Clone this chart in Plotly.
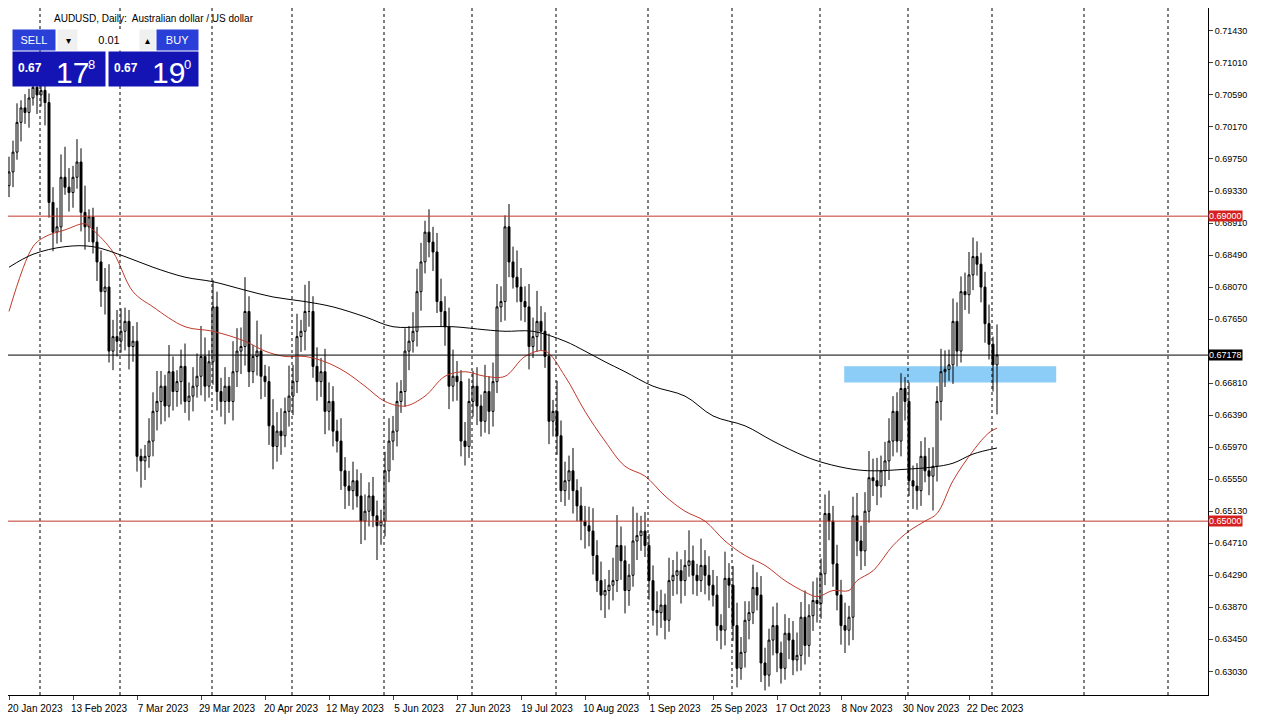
import pandas as pd
import plotly.graph_objects as go

# daily closes, AUDUSD
closes = [
    0.6958, 0.6984, 0.7023, 0.7042, 0.7036, 0.7055, 0.7069, 0.7059, 0.7065, 0.7049, 0.6918, 0.6879, 0.6886, 0.6951, 0.6938, 0.6931,
    0.6951, 0.6971, 0.6905, 0.6886, 0.6899, 0.6866, 0.6840, 0.6801, 0.6807, 0.6723, 0.6742, 0.6736, 0.6749, 0.6762, 0.6729, 0.6736,
    0.6585, 0.6579, 0.6585, 0.6605, 0.6644, 0.6657, 0.6677, 0.6651, 0.6696, 0.6670, 0.6683, 0.6703, 0.6657, 0.6664, 0.6677, 0.6690,
    0.6716, 0.6677, 0.6709, 0.6781, 0.6670, 0.6657, 0.6677, 0.6657, 0.6696, 0.6723, 0.6729, 0.6775, 0.6696, 0.6716, 0.6723, 0.6690,
    0.6683, 0.6625, 0.6598, 0.6618, 0.6612, 0.6644, 0.6664, 0.6683, 0.6742, 0.6749, 0.6775, 0.6775, 0.6703, 0.6683, 0.6696, 0.6644,
    0.6657, 0.6618, 0.6605, 0.6566, 0.6546, 0.6540, 0.6553, 0.6533, 0.6500, 0.6513, 0.6533, 0.6507, 0.6494, 0.6500, 0.6566, 0.6605,
    0.6618, 0.6657, 0.6670, 0.6723, 0.6736, 0.6749, 0.6801, 0.6840, 0.6879, 0.6866, 0.6853, 0.6788, 0.6775, 0.6755, 0.6677, 0.6690,
    0.6683, 0.6605, 0.6598, 0.6657, 0.6677, 0.6651, 0.6631, 0.6670, 0.6644, 0.6683, 0.6781, 0.6788, 0.6886, 0.6840, 0.6820, 0.6807,
    0.6788, 0.6781, 0.6729, 0.6742, 0.6762, 0.6749, 0.6716, 0.6631, 0.6644, 0.6612, 0.6540, 0.6553, 0.6566, 0.6540, 0.6520, 0.6500,
    0.6494, 0.6487, 0.6455, 0.6422, 0.6403, 0.6409, 0.6416, 0.6422, 0.6468, 0.6448, 0.6409, 0.6429, 0.6474, 0.6481, 0.6487, 0.6468,
    0.6422, 0.6383, 0.6380, 0.6390, 0.6370, 0.6422, 0.6429, 0.6435, 0.6422, 0.6442, 0.6448, 0.6429, 0.6422, 0.6442, 0.6429, 0.6416,
    0.6403, 0.6363, 0.6357, 0.6425, 0.6416, 0.6363, 0.6307, 0.6328, 0.6370, 0.6380, 0.6413, 0.6403, 0.6314, 0.6298, 0.6344, 0.6363,
    0.6327, 0.6307, 0.6353, 0.6344, 0.6318, 0.6324, 0.6374, 0.6337, 0.6376, 0.6396, 0.6392, 0.6431, 0.6510, 0.6500, 0.6444, 0.6403,
    0.6363, 0.6357, 0.6374, 0.6507, 0.6474, 0.6461, 0.6513, 0.6557, 0.6553, 0.6546, 0.6566, 0.6579, 0.6605, 0.6644, 0.6605, 0.6674,
    0.6657, 0.6553, 0.6546, 0.6540, 0.6585, 0.6566, 0.6559, 0.6572, 0.6657, 0.6696, 0.6699, 0.6705, 0.6762, 0.6723, 0.6801, 0.6797,
    0.6823, 0.6847, 0.6837, 0.6807, 0.6759, 0.6732, 0.6705, 0.6718,
]
first_open = 0.6940

# wick lengths in pips above / below the candle body
hi_wick = [
    20, 15, 25, 10, 18, 12, 20, 8, 15, 10, 12, 20, 25, 30, 40, 25,
    15, 30, 18, 35, 10, 12, 20, 15, 25, 30, 22, 35, 30, 18, 15, 20,
    25, 10, 15, 30, 25, 40, 20, 15, 35, 20, 15, 22, 30, 18, 25, 30,
    40, 25, 15, 35, 20, 18, 25, 12, 40, 30, 25, 45, 20, 15, 40, 22,
    15, 20, 35, 25, 30, 18, 40, 22, 30, 15, 35, 40, 20, 25, 18, 30,
    25, 20, 15, 30, 18, 20, 25, 15, 30, 22, 18, 25, 20, 15, 25, 30,
    20, 25, 15, 30, 20, 25, 30, 25, 15, 30, 20, 25, 30, 20, 25, 35,
    20, 15, 25, 30, 20, 25, 15, 35, 20, 25, 30, 20, 15, 30, 20, 35,
    25, 20, 30, 25, 40, 20, 25, 30, 15, 40, 20, 25, 20, 30, 15, 25,
    20, 25, 30, 20, 25, 15, 20, 30, 40, 25, 20, 15, 45, 30, 20, 25,
    15, 20, 25, 20, 15, 30, 20, 25, 15, 20, 40, 20, 15, 35, 20, 25,
    20, 25, 15, 35, 20, 25, 30, 20, 25, 15, 30, 20, 25, 20, 15, 25,
    30, 15, 25, 20, 25, 30, 20, 35, 15, 25, 30, 20, 25, 30, 20, 25,
    20, 30, 15, 25, 30, 20, 25, 35, 25, 30, 20, 25, 30, 20, 25, 20,
    15, 25, 20, 30, 20, 25, 30, 25, 20, 30, 25, 20, 30, 25, 20, 25,
    30, 25, 20, 15, 20, 25, 10, 40,
]
lo_wick = [
    15, 20, 10, 25, 15, 20, 10, 25, 15, 30, 20, 25, 15, 20, 10, 25,
    20, 15, 25, 30, 20, 15, 25, 20, 30, 15, 25, 20, 15, 25, 30, 20,
    20, 35, 25, 15, 20, 25, 30, 20, 15, 25, 20, 30, 15, 25, 20, 15,
    25, 20, 15, 30, 25, 20, 30, 15, 25, 20, 30, 25, 20, 15, 25, 30,
    20, 25, 30, 20, 25, 15, 20, 25, 15, 20, 25, 20, 15, 25, 20, 30,
    25, 20, 15, 25, 30, 20, 25, 15, 30, 25, 20, 15, 45, 25, 20, 15,
    25, 20, 15, 20, 25, 15, 20, 25, 15, 20, 25, 15, 20, 25, 30, 20,
    25, 20, 25, 15, 20, 25, 20, 15, 30, 20, 15, 20, 25, 20, 15, 20,
    25, 20, 30, 15, 20, 25, 15, 30, 20, 25, 15, 20, 25, 30, 20, 25,
    30, 20, 25, 15, 20, 30, 25, 20, 15, 25, 30, 20, 15, 25, 20, 15,
    25, 20, 30, 20, 25, 15, 20, 25, 30, 20, 15, 25, 20, 15, 25, 20,
    15, 20, 25, 20, 30, 20, 25, 15, 20, 25, 15, 20, 25, 20, 15, 20,
    25, 20, 15, 25, 20, 15, 20, 25, 15, 20, 25, 20, 15, 25, 30, 20,
    25, 30, 20, 30, 20, 25, 20, 15, 20, 25, 15, 20, 25, 20, 15, 20,
    25, 20, 30, 25, 20, 15, 25, 45, 20, 25, 20, 15, 25, 20, 15, 20,
    25, 20, 15, 20, 25, 20, 35, 65,
]

# moving averages sampled at bar indices
ma_red_idx = [0, 6, 9, 14, 19, 21, 26, 31, 36, 44, 51, 59, 64, 69, 74, 79, 84, 89, 94, 99, 104, 109, 114, 119, 124, 129,
              134, 139, 144, 149, 154, 159, 164, 169, 174, 179, 184, 189, 194, 199, 202, 206, 210, 212, 216, 221, 225, 229,
              232, 236, 241, 245, 247]
ma_red = [0.6775, 0.6860, 0.6873, 0.6882, 0.6890, 0.6882, 0.6853, 0.6801, 0.6781, 0.6755, 0.6749, 0.6736, 0.6723, 0.6716,
          0.6716, 0.6709, 0.6696, 0.6677, 0.6657, 0.6651, 0.6664, 0.6690, 0.6696, 0.6690, 0.6690, 0.6716, 0.6723, 0.6690,
          0.6644, 0.6605, 0.6572, 0.6559, 0.6533, 0.6513, 0.6500, 0.6474, 0.6455, 0.6442, 0.6422, 0.6407, 0.6401, 0.6409,
          0.6409, 0.6422, 0.6435, 0.6468, 0.6487, 0.6500, 0.6510, 0.6553, 0.6592, 0.6616, 0.6622]
ma_black_idx = [0, 6, 14, 21, 29, 36, 44, 51, 59, 66, 74, 81, 89, 96, 104, 111, 119, 124, 131, 139, 144, 149, 154, 161, 169,
                176, 184, 191, 199, 204, 211, 216, 224, 231, 236, 241, 247]
ma_black = [0.6833, 0.6850, 0.6860, 0.6860, 0.6847, 0.6833, 0.6820, 0.6814, 0.6803, 0.6794, 0.6788, 0.6781, 0.6768, 0.6755,
            0.6755, 0.6755, 0.6751, 0.6749, 0.6749, 0.6736, 0.6723, 0.6709, 0.6696, 0.6677, 0.6664, 0.6638, 0.6625, 0.6605,
            0.6585, 0.6576, 0.6568, 0.6566, 0.6568, 0.6571, 0.6576, 0.6588, 0.6596]

levels_red = [0.6900, 0.6500]
last_price = 0.67178
zone_lo, zone_hi = 0.6682, 0.6703
zone_start, zone_end = 208.8, 261.8

y_ticks = [0.71430, 0.71010, 0.70590, 0.70170, 0.69750, 0.69330, 0.68910, 0.68490, 0.68070, 0.67650,
           0.66810, 0.66390, 0.65970, 0.65550, 0.65130, 0.64710, 0.64290, 0.63870, 0.63450, 0.63030]

dates = pd.bdate_range('2023-01-20', periods=300)
n = len(closes)
idx = list(range(n))
opens = [first_open] + closes[:-1]
highs = [max(o, c) + w / 10000 for o, c, w in zip(opens, closes, hi_wick)]
lows = [min(o, c) - w / 10000 for o, c, w in zip(opens, closes, lo_wick)]

PW, PH = 1200, 687  # plot area in px


def px(x):
    return x / PW


def py(y):
    return 1 - y / PH


fig = go.Figure()
fig.add_trace(go.Candlestick(
    x=idx, open=opens, high=highs, low=lows, close=closes,
    increasing=dict(line=dict(color='black', width=1), fillcolor='white'),
    decreasing=dict(line=dict(color='black', width=1), fillcolor='black'),
    whiskerwidth=0, showlegend=False, hoverinfo='skip'))
fig.add_trace(go.Scatter(x=ma_red_idx, y=ma_red, mode='lines', line=dict(color='#c0392b', width=1, shape='spline'),
                         showlegend=False))
fig.add_trace(go.Scatter(x=ma_black_idx, y=ma_black, mode='lines', line=dict(color='black', width=1, shape='spline'),
                         showlegend=False))

# month separators
month_starts = [i for i in range(1, len(dates)) if dates[i].month != dates[i - 1].month]
for i in month_starts:
    fig.add_vline(x=i - 0.25, line=dict(color='black', width=1, dash='3px,3px'))

fig.add_shape(type='rect', x0=zone_start, x1=zone_end, y0=zone_lo, y1=zone_hi,
              fillcolor='#8ccdf7', line_width=0, layer='below')
for lv in levels_red:
    fig.add_hline(y=lv, line=dict(color='#c0392b', width=1))
    fig.add_annotation(x=1, xref='paper', y=lv, text=f'{lv:.5f}', showarrow=False, xanchor='left',
                       bgcolor='#d62020', font=dict(color='white', size=9, family='Liberation Sans'), borderpad=0)
fig.add_hline(y=last_price, line=dict(color='black', width=1))
fig.add_annotation(x=1, xref='paper', y=last_price, text=f'{last_price:.5f}', showarrow=False, xanchor='left',
                   bgcolor='black', font=dict(color='white', size=9, family='Liberation Sans'), borderpad=0)

# header
fig.add_annotation(x=px(44), y=py(3), xref='paper', yref='paper', yanchor='top', xanchor='left', showarrow=False,
                   text='AUDUSD, Daily:  Australian dollar / US dollar',
                   font=dict(size=10, family='Liberation Sans', color='black'))

# trade panel boxes: (left, top, width, height, fill, text, text colour, text size)
boxes = [
    (4, 21, 42, 20, '#2a3ed8', 'SELL', 'white', 11),
    (49, 21, 20, 20, '#f0f0f0', '▾', 'black', 10),
    (69, 21, 62, 20, 'white', '0.01', 'black', 11),
    (131, 21, 15, 20, '#f0f0f0', '▴', 'black', 10),
    (148, 21, 41, 20, '#2a3ed8', 'BUY', 'white', 11),
    (4, 43, 92, 34, '#1414b4', '', 'white', 10),
    (100, 43, 89, 34, '#1414b4', '', 'white', 10),
]
for left, top, w, h, fill, txt, col, size in boxes:
    fig.add_annotation(x=px(left), y=py(top), xref='paper', yref='paper', xanchor='left', yanchor='top',
                       width=w, height=h, bgcolor=fill, showarrow=False, text=txt, borderpad=0,
                       font=dict(size=size, color=col, family='Liberation Sans'))
for left, big, small in [(8, '17', '8'), (104, '19', '0')]:
    fig.add_annotation(x=px(left), y=py(69), xref='paper', yref='paper', xanchor='left', yanchor='bottom',
                       showarrow=False, text='<b>0.67</b>', font=dict(size=12, color='white', family='Liberation Sans'))
    fig.add_annotation(x=px(left + 38), y=py(46), xref='paper', yref='paper', xanchor='left', yanchor='top',
                       showarrow=False, text=big, font=dict(size=30, color='white', family='Liberation Sans'))
    fig.add_annotation(x=px(left + 70), y=py(47), xref='paper', yref='paper', xanchor='left', yanchor='top',
                       showarrow=False, text=small, font=dict(size=13, color='white', family='Liberation Sans'))

tick_idx = list(range(0, n, 16))
fig.update_xaxes(range=[-0.25, 299.75], tickvals=tick_idx,
                 ticktext=[dates[i].strftime('%-d %b %Y') for i in tick_idx],
                 ticks='outside', ticklen=4, ticklabelshift=26, ticklabeloverflow='allow',
                 showgrid=False, zeroline=False,
                 rangeslider_visible=False, showline=True, linecolor='black', mirror=True,
                 tickfont=dict(size=10, family='Liberation Sans', color='black'))
fig.update_yaxes(range=[0.6272, 0.7173], side='right', tickvals=y_ticks, ticktext=[f'{v:.5f}' for v in y_ticks],
                 ticks='outside', ticklen=4, showgrid=False, zeroline=False, showline=True, linecolor='black', mirror=True,
                 tickfont=dict(size=9, family='Liberation Sans', color='black'))
fig.update_layout(width=1279, height=718, margin=dict(l=0, r=79, t=0, b=31),
                  paper_bgcolor='white', plot_bgcolor='white')
fig.write_html('out.html')
